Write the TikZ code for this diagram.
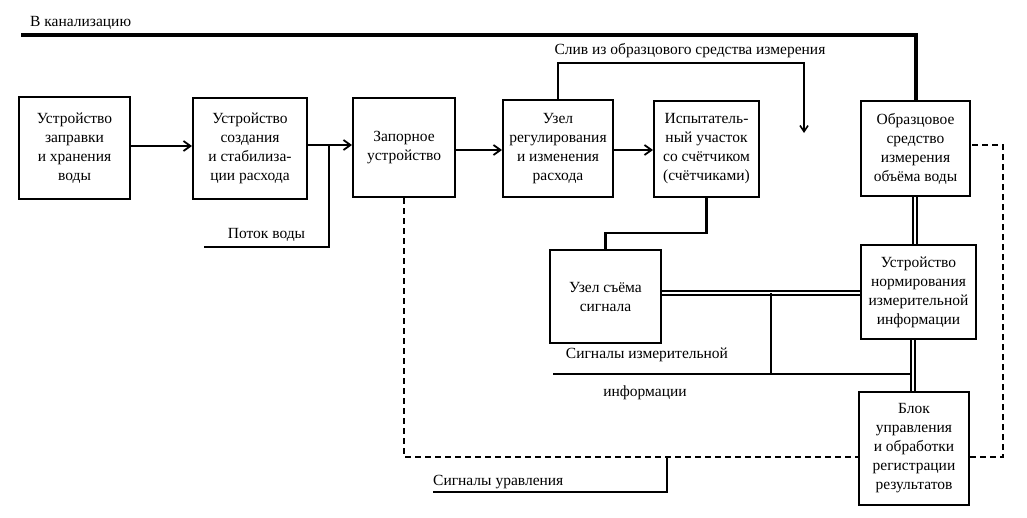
\documentclass[tikz,border=0pt]{standalone}
\usepackage{fontspec}
\setmainfont{Liberation Serif}
\usepackage{tikz}
\usetikzlibrary{arrows.meta,positioning,calc}
\tikzset{
  wtblock/.style={
    rectangle, draw=black, fill=white, line width=2pt,
    inner sep=1pt, align=center,
    font=\fontsize{15.5}{19}\selectfont
  },
  wtpipe/.style={line width=2.8pt},
  wtflow/.style={wtpipe,-{Straight Barb[length=7pt,width=10pt,line width=1.8pt]}},
  wtsewer/.style={line width=4pt},
  wtlead/.style={line width=1.8pt},
  wtbus/.style={double,double distance=2.6pt,line width=2pt},
  wtsignal/.style={line width=2.6pt},
  wtctrl/.style={line width=2pt,dash pattern=on 6pt off 4pt},
  wtlabel/.style={font=\fontsize{15.5}{19}\selectfont,inner sep=0pt}
}
\begin{document}
\begin{tikzpicture}[x=1pt,y=-1pt]
  \useasboundingbox (0,0) rectangle (1027,517);

  % Blocks of the water path
  \node[wtblock,minimum width=111pt,minimum height=102pt] (fill) at (74.5,148)
    {Устройство\\заправки\\и хранения\\воды};
  \node[wtblock,minimum width=114pt,minimum height=101pt] (stab) at (250,148.5)
    {Устройство\\создания\\и стабилиза-\\ции расхода};
  \node[wtblock,minimum width=102pt,minimum height=99pt] (valve) at (404,147.5)
    {Запорное\\устройство};
  \node[wtblock,minimum width=110pt,minimum height=97pt] (reg) at (558,148.5)
    {Узел\\регулирования\\и изменения\\расхода};
  \node[wtblock,minimum width=105pt,minimum height=96pt] (test) at (706.5,149)
    {Испытатель-\\ный участок\\со счётчиком\\(счётчиками)};
  \node[wtblock,minimum width=109pt,minimum height=95pt] (ref) at (915.5,148.5)
    {Образцовое\\средство\\измерения\\объёма воды};

  % Blocks of the measuring path
  \node[wtblock,minimum width=111pt,minimum height=93pt] (pick) at (605.5,296.5)
    {Узел съёма\\сигнала};
  \node[wtblock,minimum width=115pt,minimum height=94pt] (norm) at (918.5,292)
    {Устройство\\нормирования\\измерительной\\информации};
  \node[wtblock,minimum width=110pt,minimum height=113pt] (ctrl) at (914,448.5)
    {Блок\\управления\\и обработки\\регистрации\\результатов};

  % Free ends and taps
  \coordinate (sewer) at (21,35);
  \coordinate (drain) at (804,133);
  \coordinate (draintop) at (804,63);
  \coordinate (flowtap) at (329,145);
  \coordinate (flowend) at (204,247);
  \coordinate (busrow) at (0,293);
  \coordinate (sigtap) at (771,293);
  \coordinate (sigend) at (553,374);
  \coordinate (ctrlrow) at (0,457);
  \coordinate (ctrlright) at (1003,457);
  \coordinate (ctrltap) at (667,457);
  \coordinate (ctrlsig) at (433,492);

  % Water path
  \draw[wtflow] (fill.east |- 0,146) -- (stab.west |- 0,146);
  \draw[wtflow] (stab.east |- flowtap) -- (valve.west |- flowtap);
  \draw[wtflow] (valve.east |- 0,150) -- (reg.west |- 0,150);
  \draw[wtflow] (reg.east |- 0,150) -- (test.west |- 0,150);
  \draw[wtlead] (flowtap) |- (flowend)
    node[wtlabel,pos=0.75,above=5pt] {Поток воды};

  \draw[wtsewer] (sewer) -| (ref.north);
  \node[wtlabel,anchor=south west] (sewerlbl) at (30,30) {В канализацию};

  \draw[wtlead,-{Straight Barb[length=6pt,width=8pt,line width=1.6pt]}]
    (reg.north) |- (draintop) -- (drain);
  \node[wtlabel,anchor=south] (drainlbl) at (690,58) {Слив из образцового средства измерения};

  \draw[wtpipe] (test.south) -- ++(0,35) -| (pick.north);

  % Measuring signals
  \draw[wtbus] (pick.east |- busrow) -- (norm.west |- busrow);
  \draw[wtbus] (ref.south -| 915,0) -- (norm.north -| 915,0);
  \draw[wtbus] (norm.south -| 913,0) -- (ctrl.north -| 913,0);
  \draw[wtsignal] (sigtap) -- (sigtap |- sigend);
  \draw[wtsignal] (sigend) -- (sigend -| 911,0);
  \node[wtlabel] (siglbl1) at (647,355) {Сигналы измерительной};
  \node[wtlabel] (siglbl2) at (645,393) {информации};

  % Control signals
  \draw[wtctrl] (valve.south) |- (ctrl.west |- ctrlrow);
  \draw[wtctrl] (ctrl.east |- ctrlrow) -- (ctrlright) |- (ref.east |- 0,145);
  \draw[wtlead] (ctrlsig) -| (ctrltap);
  \node[wtlabel,anchor=south west] (ctrllbl) at (433,489) {Сигналы уравления};
\end{tikzpicture}
\end{document}
